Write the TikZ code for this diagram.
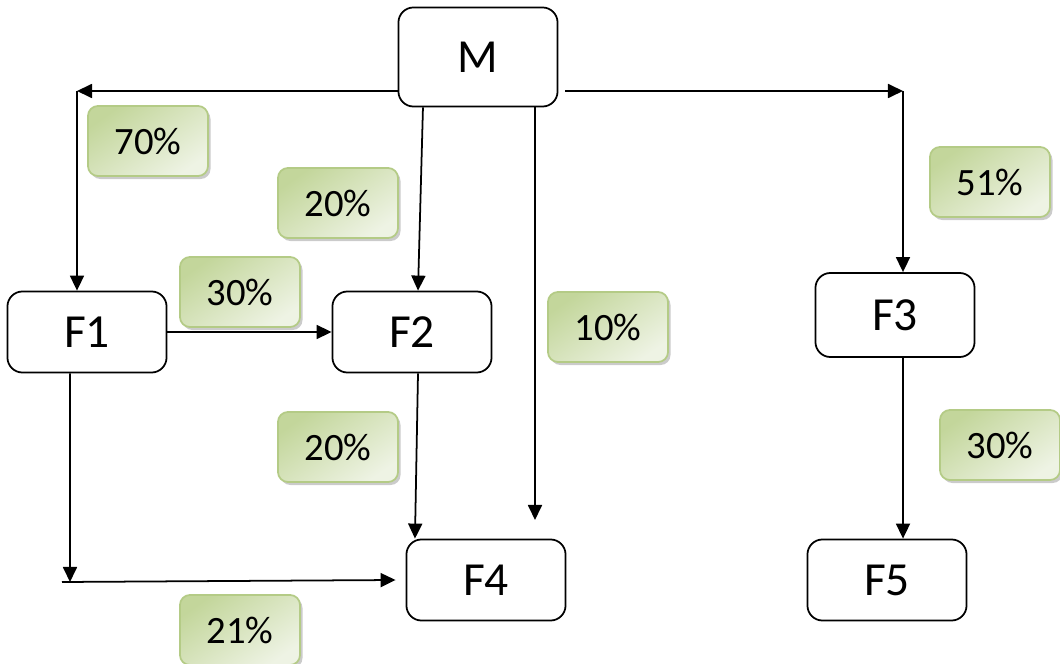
\documentclass[tikz,border=0pt]{standalone}
\usepackage{fontspec}
\setmainfont{Carlito}
\usetikzlibrary{arrows.meta,shadows}
\definecolor{pctdark}{HTML}{C3D69B}
\definecolor{pctlight}{HTML}{EEF3E4}
\definecolor{pctedge}{HTML}{B4CB86}
\begin{document}
\begin{tikzpicture}[x=0.01cm,y=-0.01cm,
  box/.style={draw,rounded corners=0.15cm,line width=0.5pt,minimum width=1.59cm,
    minimum height=0.81cm,font=\fontsize{13.5}{16}\selectfont},
  pct/.style={draw=pctedge,line width=0.5pt,rounded corners=0.1cm,
    top color=pctdark,bottom color=pctlight,shading angle=35,
    minimum width=1.2cm,minimum height=0.7cm,font=\fontsize{11}{13}\selectfont,
    drop shadow={shadow xshift=0.025cm,shadow yshift=-0.03cm,fill=black!45,opacity=0.45}},
  arr/.style={-{Triangle[length=0.15cm,width=0.14cm]},line width=0.5pt}]
\useasboundingbox (0,0) rectangle (1060,664);

% blocos
\node [box,minimum height=0.99cm] (m) at (478,57) {M};
\node [box] (f1) at (87,332) {F1};
\node [box] (f2) at (412,332) {F2};
\node [box,minimum height=0.84cm] (f3) at (895,315) {F3};
\node [box] (f4) at (486,580) {F4};
\node [box] (f5) at (887,580) {F5};

% percentuais
\node [pct] (p70) at (148,141) {70\%};
\node [pct] (p20a) at (338,203) {20\%};
\node [pct] (p30a) at (240,292) {30\%};
\node [pct] (p10) at (608,327) {10\%};
\node [pct] (p51) at (990,182) {51\%};
\node [pct] (p20b) at (338,447) {20\%};
\node [pct] (p30b) at (1000,445) {30\%};
\node [pct] (p21) at (240,630) {21\%};

% pontos livres
\coordinate (lt) at (77,91);
\coordinate (rt) at (903,91);
\coordinate (ms) at (565,91);
\coordinate (md) at (535,520);
\coordinate (lb) at (70,582);
\coordinate (lb0) at (62,582);

% ligacoes
\draw [arr] (m.west |- lt) -- (lt);
\draw [arr] (lt) -- (lt |- f1.north);
\draw [arr] (ms) -- (rt);
\draw [arr] (rt) -- (rt |- f3.north);
\draw [arr] ([xshift=-0.55cm]m.south) -- ([xshift=0.06cm]f2.north);
\draw [arr] (md |- m.south) -- (md);
\draw [arr] (f1.east) -- (f2.west);
\draw [arr] ([xshift=0.06cm]f2.south) -- ([xshift=-0.71cm]f4.north);
\draw [arr] ([xshift=-0.17cm]f1.south) -- (lb);
\draw [arr] (lb0) -- ([xshift=-0.1cm]f4.west);
\draw [arr] ([xshift=0.08cm]f3.south) -- ([xshift=0.16cm]f5.north);

\end{tikzpicture}
\end{document}
